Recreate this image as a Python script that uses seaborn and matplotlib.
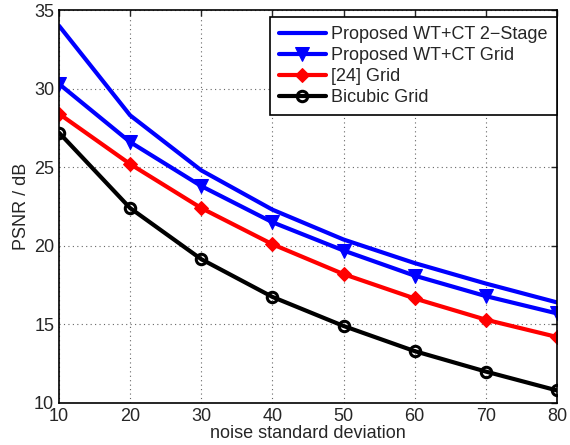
import matplotlib
matplotlib.use('Agg')
import matplotlib.pyplot as plt
import numpy as np
import pandas as pd
import seaborn as sns

# noise levels on the x axis
sigma = [10, 20, 30, 40, 50, 60, 70, 80]

# PSNR values (dB)
two_stage = [34.0, 28.3, 24.8, 22.3, 20.4, 18.9, 17.6, 16.4]
wtct_grid = [30.3, 26.6, 23.8, 21.5, 19.7, 18.1, 16.8, 15.7]
ref24_grid = [28.4, 25.2, 22.4, 20.1, 18.2, 16.65, 15.3, 14.2]
bicubic_grid = [27.2, 22.4, 19.15, 16.75, 14.9, 13.3, 12.0, 10.8]

labels = ['Proposed WT+CT 2\u2212Stage', 'Proposed WT+CT Grid', '[24] Grid', 'Bicubic Grid']

sns.set_style('white')
plt.rcParams['font.family'] = ['Liberation Sans', 'DejaVu Sans']

df = pd.DataFrame({'sigma': sigma, 'a': two_stage, 'b': wtct_grid,
                   'c': ref24_grid, 'd': bicubic_grid})

fig = plt.figure(figsize=(5.7, 4.45), dpi=100)
ax = fig.add_axes([0.1035, 0.0944, 0.8735, 0.8831])

styles = [
    ('a', 'blue', None, {}),
    ('b', 'blue', 'v', dict(markersize=9.5, markerfacecolor='blue', markeredgecolor='blue')),
    ('c', 'red', 'D', dict(markersize=7.5, markerfacecolor='red', markeredgecolor='red')),
    ('d', 'black', 'o', dict(markersize=7.5, markerfacecolor='none', markeredgecolor='black', markeredgewidth=2.2)),
]
for (col, color, mk, kw), lab in zip(styles, labels):
    sns.lineplot(data=df, x='sigma', y=col, ax=ax, color=color, linewidth=3,
                 marker=mk, label=lab, **kw)

ax.set_xlim(10, 80)
ax.set_ylim(10, 35)
ax.set_xticks(sigma)
ax.set_yticks([10, 15, 20, 25, 30, 35])
ax.set_xlabel('noise standard deviation', fontsize=13, labelpad=0)
ax.set_ylabel('PSNR / dB', fontsize=13, labelpad=3)
ax.tick_params(direction='in', length=4, top=True, right=True, labelsize=13, width=1)
ax.grid(True, linestyle=(0, (1, 3)), color='0.4', linewidth=0.8)
for s in ax.spines.values():
    s.set_color('black')
    s.set_linewidth(1.2)

leg = ax.legend(loc='upper right', bbox_to_anchor=(1.0, 0.982), fontsize=13,
                handlelength=2.6, handletextpad=0.3, borderpad=0.5,
                labelspacing=0.22, fancybox=False, framealpha=1,
                borderaxespad=0)
leg.get_frame().set_edgecolor('black')
leg.get_frame().set_linewidth(1.2)

fig.savefig('out.png', dpi=100)
